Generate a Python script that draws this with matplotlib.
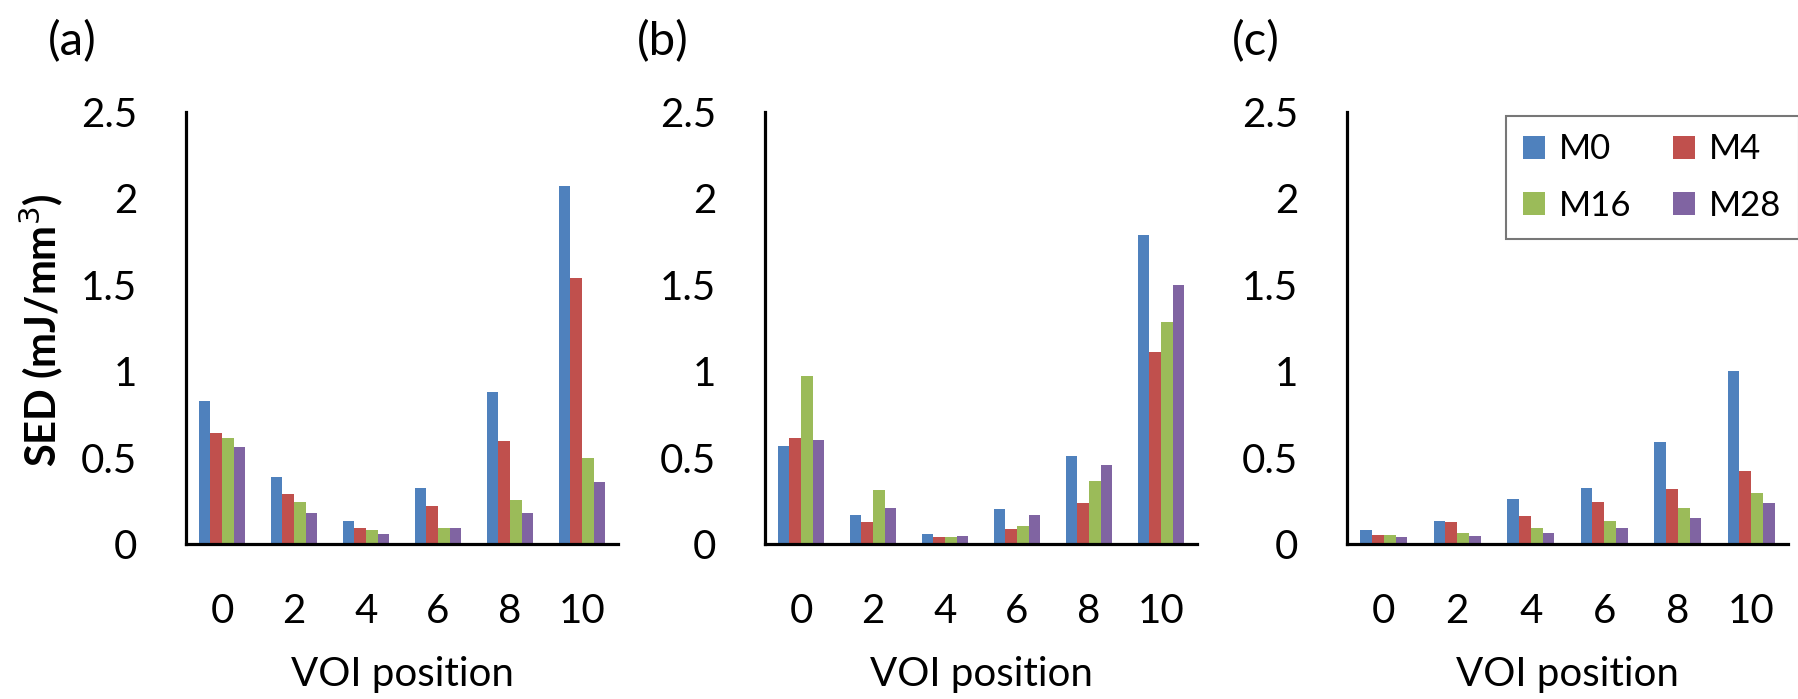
import matplotlib.pyplot as plt
import numpy as np

plt.rcParams['font.family'] = ['Lato', 'DejaVu Sans']

# VOI positions and series
positions = ['0', '2', '4', '6', '8', '10']
series_names = ['M0', 'M4', 'M16', 'M28']
colors = ['#4F81BD', '#C0504D', '#9BBB59', '#8064A2']

# panel (a)
a_m0 = [0.825, 0.385, 0.135, 0.325, 0.88, 2.07]
a_m4 = [0.64, 0.29, 0.09, 0.22, 0.595, 1.54]
a_m16 = [0.615, 0.245, 0.08, 0.09, 0.255, 0.50]
a_m28 = [0.56, 0.18, 0.057, 0.09, 0.18, 0.36]

# panel (b)
b_m0 = [0.57, 0.165, 0.06, 0.20, 0.51, 1.79]
b_m4 = [0.615, 0.13, 0.04, 0.085, 0.24, 1.11]
b_m16 = [0.97, 0.31, 0.04, 0.105, 0.365, 1.285]
b_m28 = [0.60, 0.21, 0.046, 0.165, 0.46, 1.50]

# panel (c)
c_m0 = [0.08, 0.135, 0.262, 0.323, 0.59, 1.0]
c_m4 = [0.052, 0.125, 0.162, 0.241, 0.319, 0.425]
c_m16 = [0.052, 0.066, 0.09, 0.135, 0.207, 0.298]
c_m28 = [0.042, 0.045, 0.066, 0.09, 0.149, 0.24]

panels = [
    ('(a)', [a_m0, a_m4, a_m16, a_m28]),
    ('(b)', [b_m0, b_m4, b_m16, b_m28]),
    ('(c)', [c_m0, c_m4, c_m16, c_m28]),
]

W, H = 1798, 699
fig = plt.figure(figsize=(W / 100, H / 100), dpi=100)

# axes boxes in pixels: left, right, top, bottom
boxes = [(186, 618, 112, 544), (765, 1197, 112, 544), (1347, 1788, 112, 544)]
label_pos = [(72, 42), (663, 42), (1256, 42)]

tick_fs = 29
x = np.arange(len(positions))
bw = 0.16

axes = []
for (name, data), (l, r, t, b), (lx, ly) in zip(panels, boxes, label_pos):
    ax = fig.add_axes([l / W, 1 - b / H, (r - l) / W, (b - t) / H])
    for i, vals in enumerate(data):
        ax.bar(x + (i - 1.5) * bw, vals, bw, color=colors[i], label=series_names[i])
    ax.set_xlim(-0.5, len(positions) - 0.5)
    ax.set_ylim(0, 2.5)
    ax.set_yticks([0, 0.5, 1, 1.5, 2, 2.5])
    ax.set_yticklabels(['0', '0.5', '1', '1.5', '2', '2.5'])
    ax.set_xticks(x)
    ax.set_xticklabels(positions)
    ax.spines['top'].set_visible(False)
    ax.spines['right'].set_visible(False)
    ax.spines['left'].set_linewidth(2.3)
    ax.spines['bottom'].set_linewidth(2.3)
    ax.tick_params(axis='y', length=0, pad=35, labelsize=tick_fs)
    ax.tick_params(axis='x', length=0, pad=35, labelsize=tick_fs)
    ax.set_xlabel('VOI position', fontsize=tick_fs, labelpad=19)
    fig.text(lx / W, 1 - ly / H, name, fontsize=34, ha='center', va='center')
    axes.append(ax)

fig.text(41 / W, 1 - 330 / H, 'SED (mJ/mm$^3$)', rotation=90, fontsize=30,
         fontweight='bold', ha='center', va='center')

# legend filled row-wise: M0 M4 / M16 M28
handles, labels = axes[2].get_legend_handles_labels()
order = [0, 2, 1, 3]
leg = axes[2].legend([handles[k] for k in order], [labels[k] for k in order],
                     ncol=2, loc='upper left', bbox_to_anchor=(1506 / W, 1 - 116 / H),
                     bbox_transform=fig.transFigure, fontsize=25, frameon=True,
                     fancybox=False, edgecolor='#555555', handlelength=0.63,
                     handleheight=0.63, handletextpad=0.4, columnspacing=1.2,
                     borderpad=0.5, labelspacing=0.7, borderaxespad=0)
leg.get_frame().set_linewidth(1.5)

fig.savefig('out.png', dpi=100)
